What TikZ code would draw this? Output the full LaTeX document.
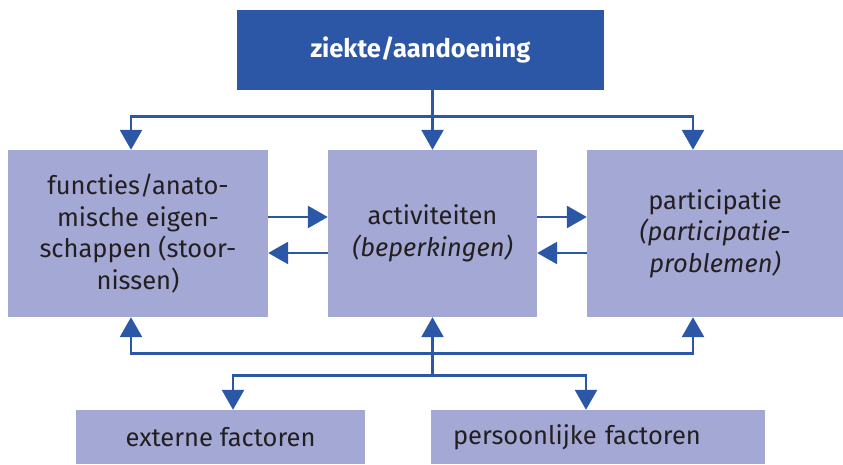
\documentclass[tikz,border=0pt]{standalone}
\usepackage{fontspec}
\setmainfont{Fira Sans}
\usetikzlibrary{arrows.meta}
\definecolor{dblue}{HTML}{2C57A6}
\definecolor{lblue}{HTML}{A4A8D4}
\definecolor{txt}{HTML}{231F20}
\begin{document}
\begin{tikzpicture}[x=1pt,y=-1pt,
  box/.style={fill=lblue, text=txt, inner sep=0pt, align=center, font=\fontsize{25.5}{31.5}\selectfont},
  con/.style={draw=dblue, line width=2.7pt},
  tri/.tip={Triangle[length=20pt,width=22pt]},
  arr/.style={con, -tri},
  arr2/.style={con, tri-tri}]
\useasboundingbox (0,0) rectangle (843,465);
\node[fill=dblue, minimum width=367pt, minimum height=80pt, inner sep=0pt, text=white, font=\bfseries\fontsize{25.5}{31}\selectfont] (top) at (420.5,50) {ziekte/aandoening};
\node[box, minimum width=260pt, minimum height=167pt] (f) at (138,233.5) {functies/anato-\\mische eigen-\\schappen (stoor-\\nissen)};
\node[box, minimum width=209pt, minimum height=167pt] (a) at (432.5,233.5) {activiteiten\\\textit{(beperkingen)}};
\node[box, minimum width=256pt, minimum height=167pt] (p) at (715,233.5) {participatie\\\textit{(participatie-}\\\textit{problemen)}};
\node[box, minimum width=289pt, minimum height=54pt] (ext) at (220.5,437) {externe factoren};
\node[box, minimum height=54pt, text width=290pt, inner xsep=22pt, align=left] (pers) at (598,437) {persoonlijke factoren};
% top connectors
\path (a.north) ++(0,-33) coordinate (j1);
\draw[arr] (top.south -| a.north) -- (a.north);
\draw[arr2] ([xshift=-7pt]f.north) |- (j1) -| ([xshift=-22pt]p.north);
% middle connectors
\draw[arr] ([yshift=16.5pt]f.east) -- ([yshift=16.5pt]a.west);
\draw[arr] ([yshift=-19.5pt]a.west) -- ([yshift=-19.5pt]f.east);
\draw[arr] ([yshift=16.5pt]a.east) -- ([yshift=16.5pt]p.west);
\draw[arr] ([yshift=-19.5pt]p.west) -- ([yshift=-19.5pt]a.east);
% bottom connectors
\path (a.south) ++(0,36) coordinate (j2);
\path (a.south) ++(0,58) coordinate (j3);
\draw[arr2] ([xshift=-7pt]f.south) |- (j2) -| ([xshift=-22pt]p.south);
\draw[arr] (j3) -- (a.south);
\draw[arr2] ([xshift=12.5pt]ext.north) |- (j3) -| ([xshift=-12pt]pers.north);
\end{tikzpicture}
\end{document}
